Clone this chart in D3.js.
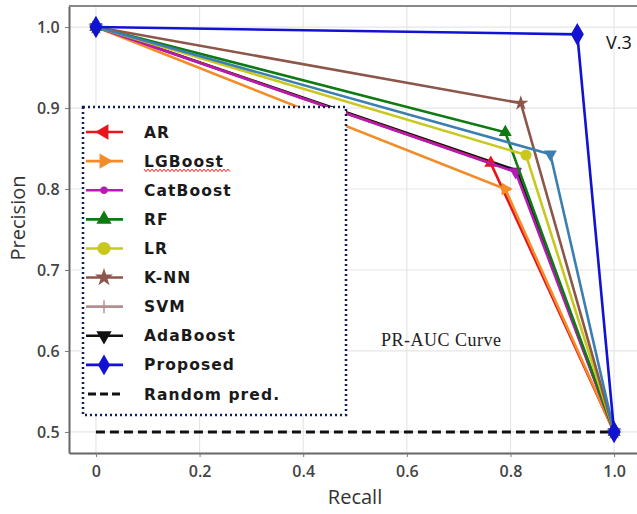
<!DOCTYPE html>
<html>
<head>
<meta charset="utf-8">
<script src="https://cdn.jsdelivr.net/npm/d3@7"></script>
<style>
  body { margin: 0; background: #fff; }
  svg { display: block; }
</style>
</head>
<body>
<div id="chart"></div>
<script>
// models and the middle point of every PR curve (curves go (0,1) -> peak -> (1,0.5))
const models = ["AR", "LGBoost", "CatBoost", "RF", "LR", "K-NN", "SVM", "AdaBoost", "Proposed"];
const recallMid = [0.762, 0.79, 0.81, 0.79, 0.83, 0.82, 0.877, 0.812, 0.929];
const precisionMid = [0.832, 0.80, 0.821, 0.87, 0.842, 0.906, 0.843, 0.823, 0.991];
const lineColors = ["#e8141c", "#f28c28", "#b21cb0", "#0f7a12", "#c9c81e", "#8c564b", "#3b7fb2", "#111111", "#1212d2"];
const legendColors = ["#e8141c", "#f28c28", "#b21cb0", "#0f7a12", "#c9c81e", "#8c564b", "#b39090", "#111111", "#1212d2"];
const markers = ["triLeft", "triRight", "dot", "triUp", "circle", "star", "plus", "triDown", "diamond"];
const plotMarkers = ["triUp", "triRight", "triDown", "triUp", "circle", "star", "triDown", "triDown", "diamond"];
const drawOrder = [7, 0, 1, 2, 3, 4, 5, 6, 8];
const xTicks = [0, 0.2, 0.4, 0.6, 0.8, 1.0];
const yTicks = [0.5, 0.6, 0.7, 0.8, 0.9, 1.0];

const W = 637, H = 514;
const svg = d3.select("#chart").append("svg").attr("width", W).attr("height", H);

let x = d3.scaleLinear().domain([-0.052, 1.05]).range([69, 640]);
let y = d3.scaleLinear().domain([0.474, 1.026]).range([453, 6]);

// grid
svg.append("g").selectAll("line").data(xTicks).enter().append("line")
  .attr("x1", d => x(d)).attr("x2", d => x(d)).attr("y1", 6).attr("y2", 453)
  .attr("stroke", "#e6e6e6").attr("stroke-width", 1.2);
svg.append("g").selectAll("line").data(yTicks).enter().append("line")
  .attr("y1", d => y(d)).attr("y2", d => y(d)).attr("x1", 69).attr("x2", 640)
  .attr("stroke", "#e6e6e6").attr("stroke-width", 1.2);

// axes
const xAxis = svg.append("g").attr("transform", "translate(0,453)")
  .call(d3.axisBottom(x).tickValues(xTicks).tickFormat(d => d === 0 ? "0" : d3.format(".1f")(d)).tickSize(4).tickSizeOuter(0));
const yAxis = svg.append("g").attr("transform", "translate(69,0)")
  .call(d3.axisLeft(y).tickValues(yTicks).tickFormat(d3.format(".1f")).tickSize(4).tickSizeOuter(0));
[xAxis, yAxis].forEach(a => {
  a.select(".domain").attr("stroke", "#666").attr("stroke-width", 2);
  a.selectAll(".tick line").attr("stroke", "#777");
  a.selectAll("text").attr("font-family", "Open Sans").attr("font-weight", 600)
    .attr("font-size", 16).attr("fill", "#444");
});
xAxis.selectAll("text").attr("dy", "1.05em");
yAxis.selectAll("text").attr("dx", "-0.15em");
svg.append("line").attr("x1", 69).attr("x2", 640).attr("y1", 6).attr("y2", 6)
  .attr("stroke", "#888").attr("stroke-width", 2);

// axis titles
svg.append("text").attr("x", 355).attr("y", 504).attr("text-anchor", "middle")
  .attr("font-family", "Open Sans").attr("font-size", 20).attr("fill", "#333").text("Recall");
svg.append("text").attr("transform", "translate(25,218) rotate(-90)").attr("text-anchor", "middle")
  .attr("font-family", "Open Sans").attr("font-size", 20).attr("fill", "#333").text("Precision");

// random prediction
svg.append("line").attr("x1", x(0)).attr("x2", x(1)).attr("y1", y(0.5)).attr("y2", y(0.5))
  .attr("stroke", "#111").attr("stroke-width", 3).attr("stroke-dasharray", "9,5");

function markerPath(kind, size) {
  const s = size * size;
  if (kind === "diamond") return d3.symbol(d3.symbolDiamond, s * 0.75)();
  if (kind === "circle") return d3.symbol(d3.symbolCircle, s * 0.8)();
  if (kind === "dot") return d3.symbol(d3.symbolCircle, s * 0.25)();
  if (kind === "star") return d3.symbol(d3.symbolStar, s * 0.6)();
  return d3.symbol(d3.symbolTriangle, s * 0.6)();
}
const rot = { triLeft: -90, triRight: 90, triDown: 180 };

function drawMarker(g, kind, cx, cy, color, size) {
  if (kind === "plus") {
    g.append("path").attr("d", `M${cx - size/2},${cy}H${cx + size/2}M${cx},${cy - size/2}V${cy + size/2}`)
      .attr("fill", "none").attr("stroke", color).attr("stroke-width", 1.5);
    return;
  }
  g.append("path").attr("d", markerPath(kind, size))
    .attr("transform", `translate(${cx},${cy}) rotate(${rot[kind] || 0})`)
    .attr("fill", color);
}

// curves
const line = d3.line().x(d => x(d[0])).y(d => y(d[1]));
const curves = svg.append("g");
drawOrder.forEach(i => {
  const pts = [[0, 1], [recallMid[i], precisionMid[i]], [1, 0.5]];
  curves.append("path").attr("d", line(pts)).attr("fill", "none")
    .attr("stroke", lineColors[i]).attr("stroke-width", 2.6);
  const sz = i === 8 ? 14 : (i === 7 ? 8 : 11);
  pts.forEach(p => drawMarker(curves, plotMarkers[i], x(p[0]), y(p[1]), lineColors[i], sz));
});

// labels inside plot
svg.append("text").attr("x", 606).attr("y", 49).attr("font-family", "Open Sans")
  .attr("font-size", 18).attr("fill", "#111").text("V.3");
svg.append("text").attr("x", 381).attr("y", 346).attr("font-family", "Liberation Serif")
  .attr("font-size", 18).attr("textLength", 120).attr("fill", "#222").text("PR-AUC Curve");

// legend
const leg = svg.append("g");
leg.append("rect").attr("x", 83).attr("y", 107).attr("width", 263).attr("height", 308)
  .attr("fill", "#fff").attr("stroke", "#0c1f5c").attr("stroke-width", 2.5)
  .attr("stroke-dasharray", "2,3");
const legY = d3.scaleLinear().domain([0, 9]).range([132, 394]);
models.concat(["Random pred."]).forEach((m, i) => {
  const cy = legY(i);
  if (i < 9) {
    leg.append("line").attr("x1", 86).attr("x2", 123).attr("y1", cy).attr("y2", cy)
      .attr("stroke", legendColors[i]).attr("stroke-width", 2.6);
    drawMarker(leg, markers[i], 104, cy, legendColors[i], 13);
  } else {
    leg.append("line").attr("x1", 88).attr("x2", 123).attr("y1", cy).attr("y2", cy)
      .attr("stroke", "#111").attr("stroke-width", 3).attr("stroke-dasharray", "8,4");
  }
  leg.append("text").attr("x", 144).attr("y", cy + 5.5)
    .attr("font-family", "DejaVu Sans").attr("font-weight", "bold").attr("font-size", 15.5)
    .attr("letter-spacing", 1.1).attr("fill", "#1a1a1a").text(m);
});
// spell-check squiggle under LGBoost
const sq = d3.range(0, 44).map(k => [144 + k * 2, legY(1) + 9 + (k % 2 ? 1.5 : -1)]);
leg.append("path").attr("d", d3.line()(sq)).attr("fill", "none").attr("stroke", "#e02020").attr("stroke-width", 1);
</script>
</body>
</html>
